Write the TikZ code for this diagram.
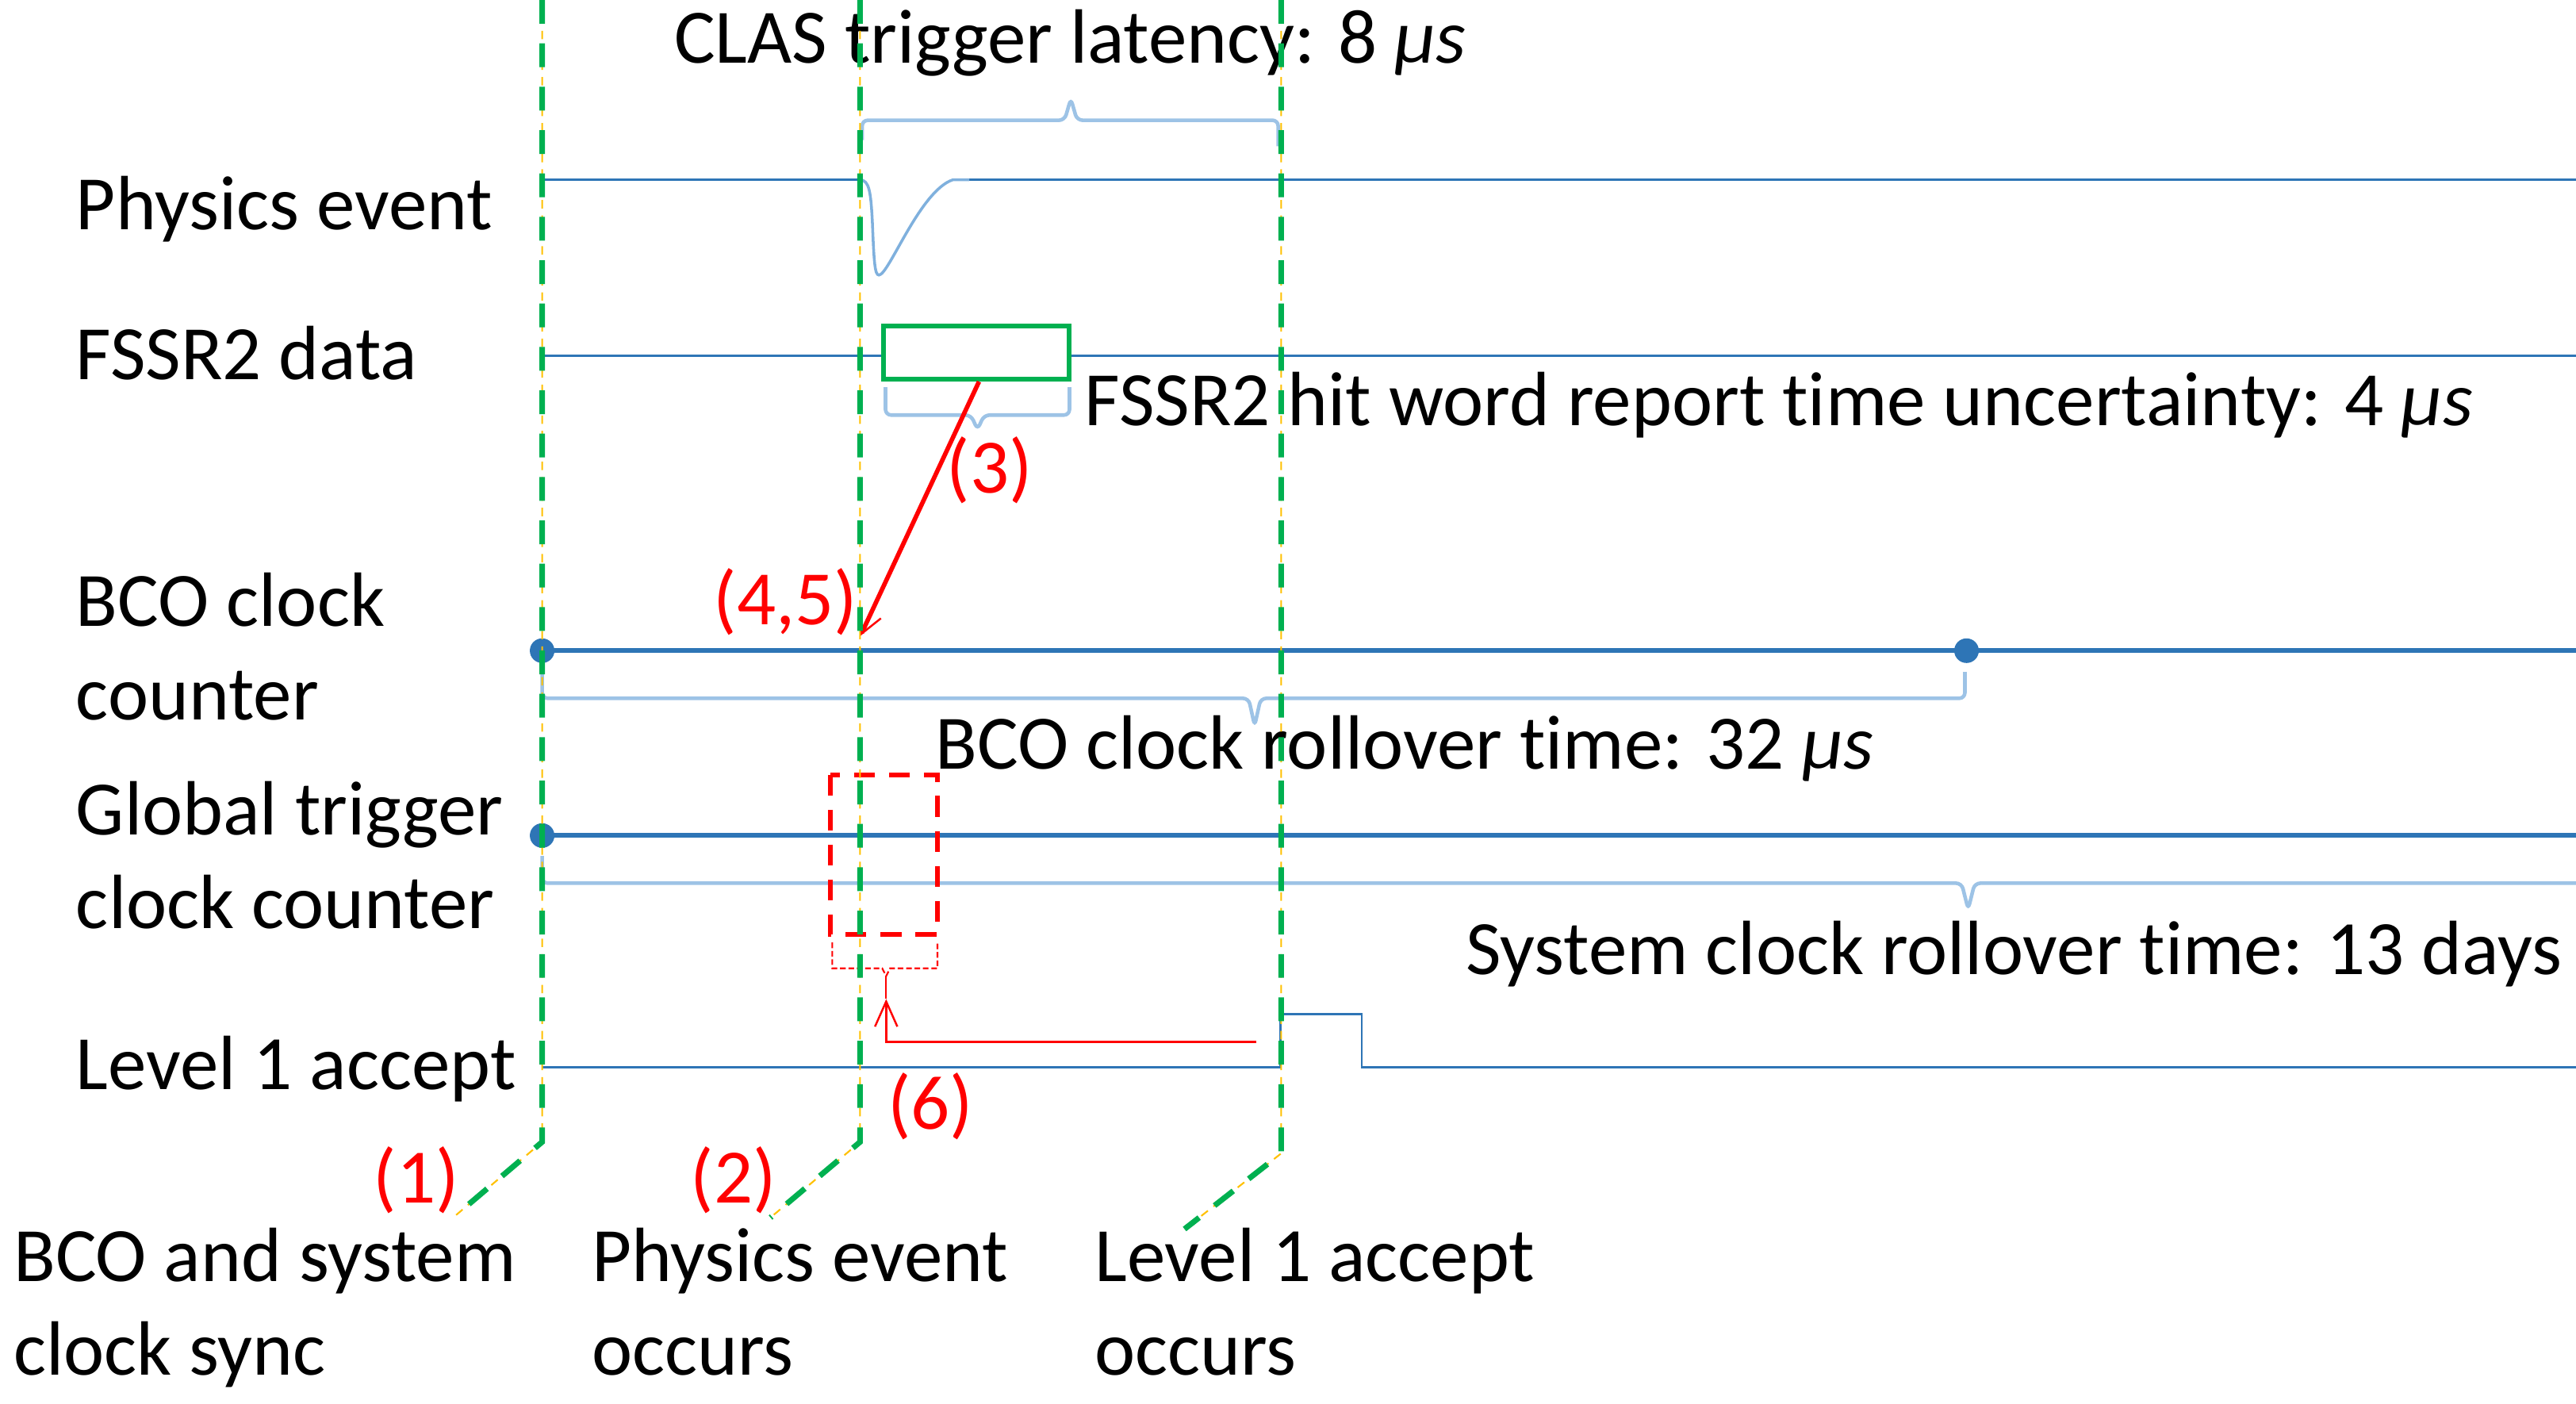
\documentclass[tikz,border=0pt]{standalone}
\usepackage{fontspec}
\setmainfont[Ligatures=NoCommon]{Carlito}
\usetikzlibrary{arrows.meta}
\definecolor{sigblue}{HTML}{2E75B6}
\definecolor{lightblue}{HTML}{9DC3E6}
\definecolor{pulseblue}{HTML}{7FB0DD}
\definecolor{mkgreen}{HTML}{00B050}
\definecolor{mkyellow}{HTML}{FFC000}
\definecolor{mkred}{HTML}{FF0000}
\newcommand{\mus}{\textit{μs}}
\begin{document}
\begin{tikzpicture}[x=0.5873pt,y=-0.5873pt,
  sig/.style={sigblue,line width=0.8pt},
  pulse/.style={pulseblue,line width=1pt},
  counter/.style={sigblue,line width=1.7pt},
  dotmark/.style={fill=sigblue,draw=none},
  bracket/.style={lightblue,line width=1.3pt,rounded corners=2pt},
  vgreen/.style={mkgreen,line width=2pt,dash pattern=on 8.5pt off 7pt},
  vyellow/.style={mkyellow,line width=0.6pt,dash pattern=on 3pt off 2.5pt},
  lbl/.style={anchor=base west,inner sep=0pt,font=\fontsize{27.5}{33.5}\selectfont,align=left},
  rlbl/.style={lbl,text=mkred},
  hitbox/.style={draw=mkgreen,line width=1.7pt,fill=white,inner sep=0pt,
    minimum width=66.4pt,minimum height=19.1pt},
  redbox/.style={draw=mkred,line width=1.7pt,dash pattern=on 7.5pt off 5pt},
  redbrace/.style={mkred,line width=0.6pt,dash pattern=on 2pt off 1pt},
  redarrow/.style={mkred,line width=1.6pt,-{Straight Barb[length=8pt,width=8pt,line width=0.7pt]}},
  redarrowsix/.style={mkred,line width=0.9pt,-{Straight Barb[length=9pt,width=8pt,line width=0.7pt]}}
]
\useasboundingbox (0,0) rectangle (1568,854);

% ---------- text labels (multi-line nodes: anchor = last baseline) ----------
\node[lbl] (tclas) at (410,38.6) {CLAS trigger latency: 8 \mus};
\node[lbl] (tphys) at (46,139.6) {Physics event};
\node[lbl] (tfssr) at (46,230.8) {FSSR2 data};
\node[lbl] (tunc) at (660,259) {FSSR2 hit word report time uncertainty: 4 \mus};
\node[lbl] (tbco) at (46,438) {BCO clock\\counter};
\node[lbl] (tbcoroll) at (569,468) {BCO clock rollover time: 32 \mus};
\node[lbl] (tglob) at (46,565) {Global trigger\\clock counter};
\node[lbl] (tsys) at (892,593) {System clock rollover time: 13 days};
\node[lbl] (tlone) at (46,663) {Level 1 accept};
\node[lbl] (tsync) at (8,836.7) {BCO and system\\clock sync};
\node[lbl] (tocc) at (360,836.7) {Physics event\\occurs};
\node[lbl] (tlocc) at (666,836.7) {Level 1 accept\\occurs};
\node[rlbl] (rone) at (227,732) {(1)};
\node[rlbl] (rtwo) at (420,732) {(2)};
\node[rlbl] (rthree) at (576,300) {(3)};
\node[rlbl] (rfour) at (434,380) {(4,5)};
\node[rlbl] (rsix) at (540,687) {(6)};

% ---------- physics event ----------
\coordinate (pA) at (330,109.4);
\coordinate (pB) at (523.7,109.4);
\coordinate (pC) at (580,109.4);
\coordinate (pE) at (1568,109.4);
\draw[sig] (pA) -- (pB);
\draw[sig] (pC) -- (pE);
\draw[pulse] (pB) .. controls (529,110) and (530,116) .. (531,135)
  .. controls (532,160) and (532.5,167.4) .. (535,167.4)
  .. controls (541,167.4) and (560,116) .. (pC) -- (590,109.4);

% ---------- FSSR2 data ----------
\coordinate (fA) at (330,216.4);
\coordinate (fE) at (1568,216.4);
\draw[sig] (fA) -- (fE);
\node[hitbox] (hit) at (594.2,214.55) {};

% brackets
\draw[bracket] (524.8,85.3) -- (524.8,73.2) -- (648,73.2) -- (651.8,60) -- (655.6,73.2) -- (778,73.2) -- (778,89);
\draw[bracket] (539,235.6) -- (539,252.6) -- (591,252.6) -- (595,261.5) -- (599,252.6) -- (651,252.6) -- (651,235.6);
\draw[bracket] (330,409) -- (330,425) -- (760,425) -- (763.7,441.7) -- (767.4,425) -- (1196,425) -- (1196,409);
\draw[bracket] (330,521) -- (330,537.5) -- (1194,537.5) -- (1198,553.4) -- (1202,537.5) -- (1568,537.5);

% ---------- counters ----------
\coordinate (bA) at (330,396);
\coordinate (bR) at (1197,396);
\coordinate (bE) at (1568,396);
\draw[counter] (bA) -- (bE);
\fill[dotmark] (bA) circle[radius=4.4pt];
\fill[dotmark] (bR) circle[radius=4.4pt];
\coordinate (gA) at (330,508.5);
\coordinate (gE) at (1568,508.5);
\draw[counter] (gA) -- (gE);
\fill[dotmark] (gA) circle[radius=4.4pt];

% ---------- level 1 accept ----------
\draw[sig] (330,649.7) -- (779.6,649.7) -- (779.6,617) -- (828.9,617) -- (828.9,649.7) -- (1568,649.7);

% ---------- red markings ----------
\draw[redbox] (505.5,471.5) rectangle (570.7,568.8);
\draw[redbrace] (506.6,573.6) -- (506.6,589.3) -- (537,589.3) -- (539.4,594) -- (541.8,589.3) -- (570.6,589.3) -- (570.6,573.6);
\coordinate (rtip) at (539.4,594);
\coordinate (rhead) at (539.4,608);
\coordinate (rstart) at (764.8,634);
\draw[mkred,line width=0.6pt] (rtip) -- (rhead);
\draw[redarrowsix] (rstart) -| (rhead);
\coordinate (bcohit) at (523.7,387);
\draw[redarrow] ([xshift=1pt]hit.south) -- (bcohit);

% ---------- vertical event markers ----------
\coordinate (aT) at (330,0); \coordinate (aM) at (330,695); \coordinate (aE) at (277,740);
\coordinate (bT) at (523.5,0); \coordinate (bM) at (523.5,695); \coordinate (bEnd) at (469,741);
\coordinate (cT) at (779.8,0); \coordinate (cM) at (779.8,702); \coordinate (cE) at (721,748);
\foreach \t/\m/\e in {aT/aM/aE,bT/bM/bEnd,cT/cM/cE}{
  \draw[vyellow] (\t) -- (\m) -- (\e);
  \draw[vgreen] (\t) -- (\m) -- (\e);
}
\end{tikzpicture}
\end{document}
